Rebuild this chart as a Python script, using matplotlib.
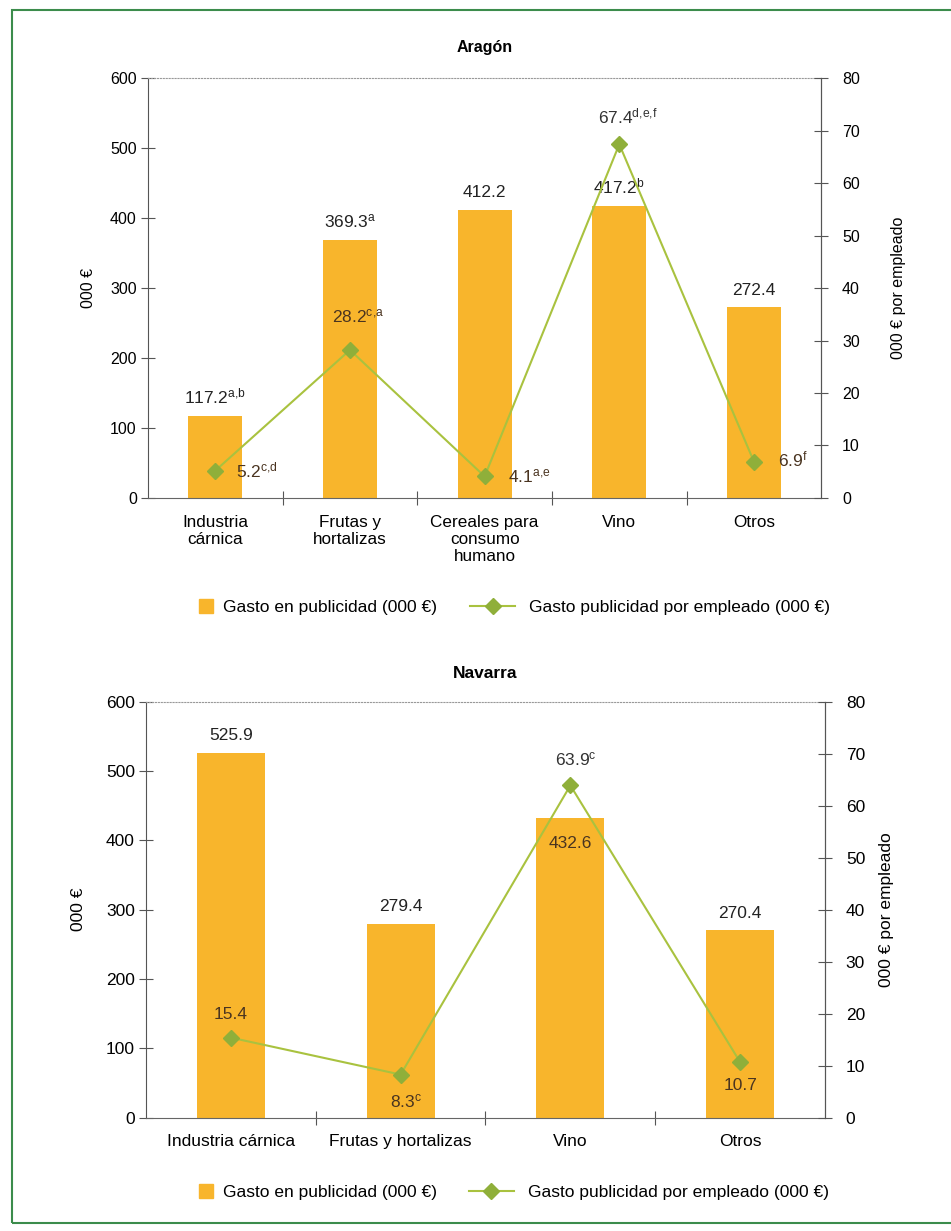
import matplotlib
matplotlib.use("Agg")
import matplotlib.pyplot as plt
from matplotlib.lines import Line2D
from matplotlib.patches import Rectangle

plt.rcParams['font.family'] = ['Liberation Sans', 'DejaVu Sans']
plt.rcParams['mathtext.fontset'] = 'custom'
plt.rcParams['mathtext.rm'] = 'Liberation Sans'
plt.rcParams['mathtext.it'] = 'Liberation Sans'

# --- data ---
aragon_cats = ['Industria\ncárnica', 'Frutas y\nhortalizas', 'Cereales para\nconsumo\nhumano',
               'Vino', 'Otros']
aragon_gasto = [117.2, 369.3, 412.2, 417.2, 272.4]
aragon_gasto_sup = ['a,b', 'a', '', 'b', '']
aragon_emp = [5.2, 28.2, 4.1, 67.4, 6.9]
aragon_emp_sup = ['c,d', 'c,a', 'a,e', 'd,e,f', 'f']

navarra_cats = ['Industria cárnica', 'Frutas y hortalizas', 'Vino', 'Otros']
navarra_gasto = [525.9, 279.4, 432.6, 270.4]
navarra_gasto_sup = ['', '', '', '']
navarra_emp = [15.4, 8.3, 63.9, 10.7]
navarra_emp_sup = ['', 'c', 'c', '']

BAR = '#F8B52C'
LINE = '#A9C23F'
MARK = '#8FAF3A'
DARK = '#4A3420'
LEG_FS = 12.5


def label(value, sup):
    s = f"{value:.1f}"
    if sup:
        s += r"$^{\mathrm{" + sup.replace(',', '{,}') + "}}$"
    return s


def draw(ax, title, cats, gasto, gsup, emp, esup, goff, eoff, ecol, gcol,
         fs, xfs, lpad, rpad, tpad, leg_y, leg_x):
    n = len(cats)
    x = list(range(n))
    ax.bar(x, gasto, width=0.4, color=BAR, zorder=2)
    ax.set_xlim(-0.5, n - 0.5)
    ax.set_ylim(0, 600)
    ax.set_yticks(range(0, 601, 100))
    ax.set_xticks([i + 0.5 for i in range(n - 1)])
    ax.set_xticklabels([])
    ax.set_xticks(x, minor=True)
    ax.set_xticklabels(cats, minor=True, fontsize=xfs)
    ax.tick_params(axis='x', which='minor', length=0, pad=12)
    ax.tick_params(axis='x', which='major', direction='inout', length=10, color='#555555')
    ax.tick_params(axis='y', direction='inout', length=10, color='#555555', labelsize=fs, pad=3)
    ax.set_ylabel('000 €', fontsize=fs, labelpad=lpad)
    ax.set_title(title, fontsize=fs, fontweight='bold', pad=tpad)
    for s in ['left', 'right']:
        ax.spines[s].set_color('#555555')
    ax.spines['top'].set_linestyle(':')
    ax.spines['top'].set_color('#999999')
    ax.spines['bottom'].set_linestyle((0, (2, 1)))
    ax.spines['bottom'].set_color('#666666')

    for i in x:
        ax.annotate(label(gasto[i], gsup[i]), (i, gasto[i]), xytext=goff[i],
                    textcoords='offset points', ha='center', va='bottom',
                    fontsize=12.5, color=gcol[i], zorder=5)

    ax2 = ax.twinx()
    ax2.plot(x, emp, color=LINE, lw=1.5, marker='D', ms=8,
             mfc=MARK, mec=MARK, zorder=4)
    ax2.set_ylim(0, 80)
    ax2.set_yticks(range(0, 81, 10))
    ax2.tick_params(axis='y', direction='inout', length=10, color='#555555', labelsize=fs, pad=10)
    ax2.set_ylabel('000 € por empleado', fontsize=fs, labelpad=rpad)
    for s in ['top', 'bottom', 'left']:
        ax2.spines[s].set_visible(False)
    ax2.spines['right'].set_color('#555555')
    for i in x:
        ax2.annotate(label(emp[i], esup[i]), (i, emp[i]), xytext=eoff[i],
                     textcoords='offset points', ha='center', va='center',
                     fontsize=12.5, color=ecol[i], zorder=6)

    # legend split in two so each handle keeps its own width
    sq = Line2D([], [], ls='none', marker='s', ms=10, mfc=BAR, mec=BAR)
    ln = Line2D([], [], color=LINE, lw=1.5, marker='D', ms=8, mfc=MARK, mec=MARK)
    leg1 = ax.legend([sq], ['Gasto en publicidad (000 €)'], loc='center left',
                     frameon=False, fontsize=LEG_FS, handlelength=1.0, handletextpad=0.5,
                     bbox_to_anchor=(leg_x[0], leg_y))
    ax.add_artist(leg1)
    ax.legend([ln], ['Gasto publicidad por empleado (000 €)'], loc='center left',
              frameon=False, fontsize=LEG_FS, handlelength=2.6, handletextpad=0.8,
              bbox_to_anchor=(leg_x[1], leg_y))


fig = plt.figure(figsize=(9.51, 12.31), dpi=100)

ax1 = fig.add_axes([0.1556, 0.5955, 0.708, 0.341])
draw(ax1, 'Aragón', aragon_cats, aragon_gasto, aragon_gasto_sup, aragon_emp, aragon_emp_sup,
     goff=[(0, 7), (0, 7), (0, 7), (0, 7), (0, 7)],
     eoff=[(30, 0), (6, 24), (32, 0), (6, 20), (28, 2)],
     ecol=[DARK, DARK, DARK, '#333333', DARK],
     gcol=['#222222'] * 5,
     fs=11.5, xfs=12.3, lpad=10, rpad=22, tpad=19, leg_y=-0.26, leg_x=(0.05, 0.455))

ax3 = fig.add_axes([0.1535, 0.092, 0.714, 0.338])
draw(ax3, 'Navarra', navarra_cats, navarra_gasto, navarra_gasto_sup, navarra_emp, navarra_emp_sup,
     goff=[(0, 7), (0, 7), (0, -24), (0, 7)],
     eoff=[(0, 17), (4, -19), (4, 19), (0, -17)],
     ecol=[DARK, DARK, '#333333', DARK],
     gcol=['#222222', '#222222', DARK, '#222222'],
     fs=12.5, xfs=12.5, lpad=14, rpad=10, tpad=17, leg_y=-0.18, leg_x=(0.052, 0.452))

# green frame around the page
fig.add_artist(Rectangle((12 / 951, 1 - 1223 / 1231), 1.0, (1223 - 10) / 1231,
                         transform=fig.transFigure, fill=False,
                         edgecolor='#3C8C4C', lw=1.5, clip_on=False))

fig.savefig('out.png', dpi=100)
